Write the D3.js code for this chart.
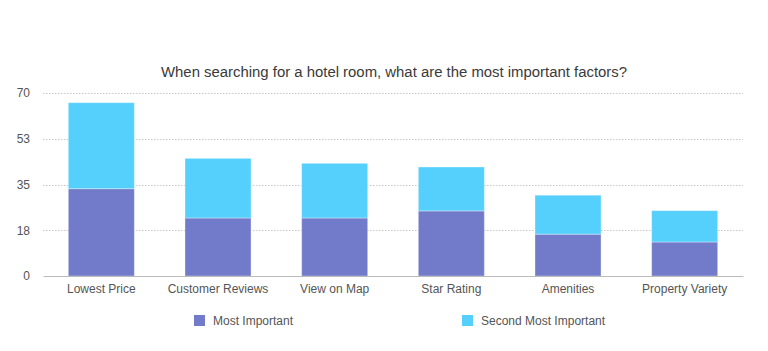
<!DOCTYPE html>
<html><head><meta charset="utf-8">
<script src="https://cdn.jsdelivr.net/npm/d3@7"></script>
<style>
html,body{margin:0;padding:0;background:#fff;}
svg{display:block;font-family:"Helvetica Neue",Helvetica,"Liberation Sans",Arial,sans-serif;}
</style></head>
<body>
<svg id="chart" width="768" height="351"></svg>
<script>
const categories = ["Lowest Price","Customer Reviews","View on Map","Star Rating","Amenities","Property Variety"];
const mostImportant = [33.4, 22.2, 22.2, 24.9, 16.0, 13.0];
const secondMostImportant = [32.9, 22.8, 20.9, 16.8, 14.9, 12.0];
const seriesNames = ["Most Important","Second Most Important"];
const seriesColors = ["#727bc9","#55cffc"];
const tickValues = [0, 17.5, 35, 52.5, 70];
const tickLabels = ["0","18","35","53","70"];
const title = "When searching for a hotel room, what are the most important factors?";

const svg = d3.select("#chart");
const m = {left:43, right:25, top:93, bottom:75};
const W = 768, H = 351;
const x = d3.scaleBand().domain(categories).range([m.left, W - m.right]).paddingInner(0.434).paddingOuter(0.217);
const y = d3.scaleLinear().domain([0,70]).range([H - m.bottom, m.top]);

svg.append("text").attr("x", 394).attr("y", 77).attr("text-anchor","middle")
  .attr("font-size", 14.9).attr("fill","#3a3a3a").text(title);

// grid
const grid = svg.append("g");
grid.selectAll("line").data(tickValues.filter(d=>d>0)).join("line")
  .attr("x1", m.left).attr("x2", W - m.right)
  .attr("y1", d=>Math.round(y(d))+0.5).attr("y2", d=>Math.round(y(d))+0.5)
  .attr("stroke","#c8c8c8").attr("stroke-dasharray","1.5,1.5");

// y axis
const yAxis = d3.axisLeft(y).tickValues(tickValues).tickFormat((d,i)=>tickLabels[i]).tickSize(0).tickPadding(13);
const ya = svg.append("g").attr("transform",`translate(${m.left},0)`).call(yAxis);
ya.select(".domain").remove();
ya.selectAll("text").attr("font-size",12).attr("fill","#555").attr("font-family","inherit");

// stacked data
const data = categories.map((c,i)=>({cat:c, a:mostImportant[i], b:secondMostImportant[i]}));
const stack = d3.stack().keys(["a","b"])(data);
svg.append("g").selectAll("g").data(stack).join("g")
  .attr("fill",(d,i)=>seriesColors[i])
  .selectAll("rect").data(d=>d).join("rect")
  .attr("x", d=>x(d.data.cat)).attr("width", x.bandwidth())
  .attr("y", d=>y(d[1])).attr("height", d=>y(d[0]) - y(d[1]))
  .attr("stroke","rgba(255,255,255,0.35)").attr("stroke-width",1);

// x axis
const xAxis = d3.axisBottom(x).tickSize(0).tickPadding(8);
const xa = svg.append("g").attr("transform",`translate(0,${y(0)})`).call(xAxis);
xa.select(".domain").attr("stroke","#bbb");
xa.selectAll("text").attr("font-size",12).attr("fill","#555").attr("font-family","inherit");

// legend
const legendX = [194, 462];
const lg = svg.append("g").selectAll("g").data(seriesNames).join("g")
  .attr("transform",(d,i)=>`translate(${legendX[i]},315)`);
lg.append("rect").attr("width",11).attr("height",11).attr("fill",(d,i)=>seriesColors[i]);
lg.append("text").attr("x",19).attr("y",10).attr("font-size",12).attr("fill","#555").text(d=>d);
</script>
</body></html>
